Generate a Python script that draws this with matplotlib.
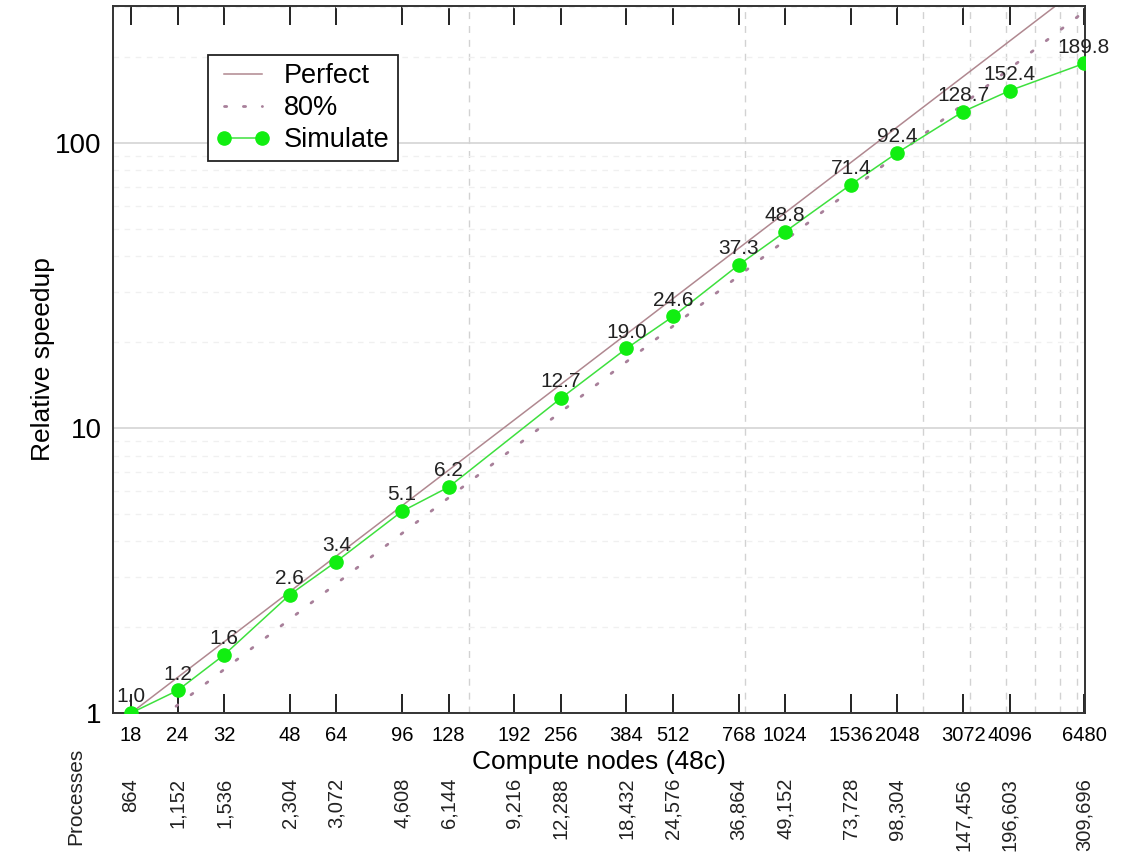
import matplotlib
matplotlib.use("Agg")
import matplotlib.pyplot as plt
import matplotlib.ticker as mticker
import matplotlib.transforms as mtransforms
import numpy as np

plt.rcParams['font.family'] = ['Liberation Sans', 'DejaVu Sans']

# ---- data ----
nodes = [18, 24, 32, 48, 64, 96, 128, 256, 384, 512, 768, 1024, 1536, 2048, 3072, 4096, 6480]
speedup = [1.0, 1.2, 1.6, 2.6, 3.4, 5.1, 6.2, 12.7, 19.0, 24.6, 37.3, 48.8, 71.4, 92.4, 128.7, 152.4, 189.8]
tick_nodes = [18, 24, 32, 48, 64, 96, 128, 192, 256, 384, 512, 768, 1024, 1536, 2048, 3072, 4096, 6480]
tick_labels = [str(n) for n in tick_nodes]
process_labels = ["864", "1,152", "1,536", "2,304", "3,072", "4,608", "6,144", "9,216", "12,288",
                  "18,432", "24,576", "36,864", "49,152", "73,728", "98,304", "147,456",
                  "196,603", "309,696"]
vgrid_nodes = [145, 800, 2400, 3200, 4000, 4800, 5600, 6200]
efficiency = 0.8

nodes_arr = np.array(nodes, dtype=float)
perfect = nodes_arr / nodes_arr[0]
eighty = efficiency * perfect

# ---- figure ----
fig = plt.figure(figsize=(11.25, 8.52), dpi=100)
ax = fig.add_axes([0.1004, 0.1631, 0.8640, 0.8299])
ax.set_xscale('log')
ax.set_yscale('log')
ax.set_xlim(16.1, 6520)
ax.set_ylim(1, 302)

# grids
ax.yaxis.set_major_locator(mticker.LogLocator(base=10))
ax.yaxis.set_minor_locator(mticker.LogLocator(base=10, subs=np.arange(2, 10)))
ax.grid(True, which='major', axis='y', color='#d4d4d4', lw=1.2, ls='-')
ax.grid(True, which='minor', axis='y', color='#f0f0f0', lw=1.0, ls=(0, (4, 4)))
for xv in vgrid_nodes:
    ax.axvline(xv, color='#d2d2d2', lw=1.0, ls=(0, (5, 5)), zorder=0.5)

# lines
ax.plot(nodes_arr, perfect, color='#b08890', lw=1.1, label='Perfect', zorder=2)
ax.plot(nodes_arr, eighty, color='#a8809a', lw=2.0, ls=(0, (0.8, 6.0)), label='80%', zorder=2,
        dash_capstyle='round')
ax.plot(nodes_arr, speedup, color='#3ee03e', lw=1.1, marker='o', ms=9.5,
        mfc='#11ee11', mec='#11ee11', label='Simulate', zorder=3)

for x, y in zip(nodes, speedup):
    ax.annotate(f"{y:.1f}", (x, y), xytext=(0, 5), textcoords='offset points',
                ha='center', va='bottom', fontsize=15, color='#222222', zorder=4)

# ticks
ax.xaxis.set_major_locator(mticker.FixedLocator(tick_nodes))
ax.xaxis.set_major_formatter(mticker.FixedFormatter(tick_labels))
ax.xaxis.set_minor_locator(mticker.NullLocator())
ax.tick_params(axis='x', which='major', direction='in', length=14, width=1.4,
               top=True, labelsize=14.5, pad=9, color='#222222')
ax.set_yticks([1, 10, 100])
ax.yaxis.set_major_formatter(mticker.FuncFormatter(lambda v, p: f"{v:g}"))
ax.tick_params(axis='y', which='both', length=0, labelsize=20, pad=8)

for s in ax.spines.values():
    s.set_color('#333333')
    s.set_linewidth(1.4)

ax.set_xlabel('Compute nodes (48c)', fontsize=19, labelpad=4)
ax.set_ylabel('Relative speedup', fontsize=19, labelpad=0)

# processes row
trans = mtransforms.blended_transform_factory(ax.transData, fig.transFigure)
for x, lab in zip(tick_nodes, process_labels):
    ax.text(x, 0.087, lab, transform=trans, rotation=90, ha='center', va='top',
            fontsize=14.5, color='#222222', clip_on=False)
fig.text(0.067, 0.122, 'Processes', rotation=90, ha='center', va='top', fontsize=15,
         color='#222222')

leg = ax.legend(loc='upper left', bbox_to_anchor=(0.0977, 0.9307), borderaxespad=0,
                fontsize=19.5, frameon=True, fancybox=False, edgecolor='#222222',
                framealpha=1, labelspacing=0.22, handlelength=2.0, handletextpad=0.5,
                borderpad=0.3, numpoints=2)
leg.get_frame().set_linewidth(1.3)

fig.savefig('out.png', dpi=100)
